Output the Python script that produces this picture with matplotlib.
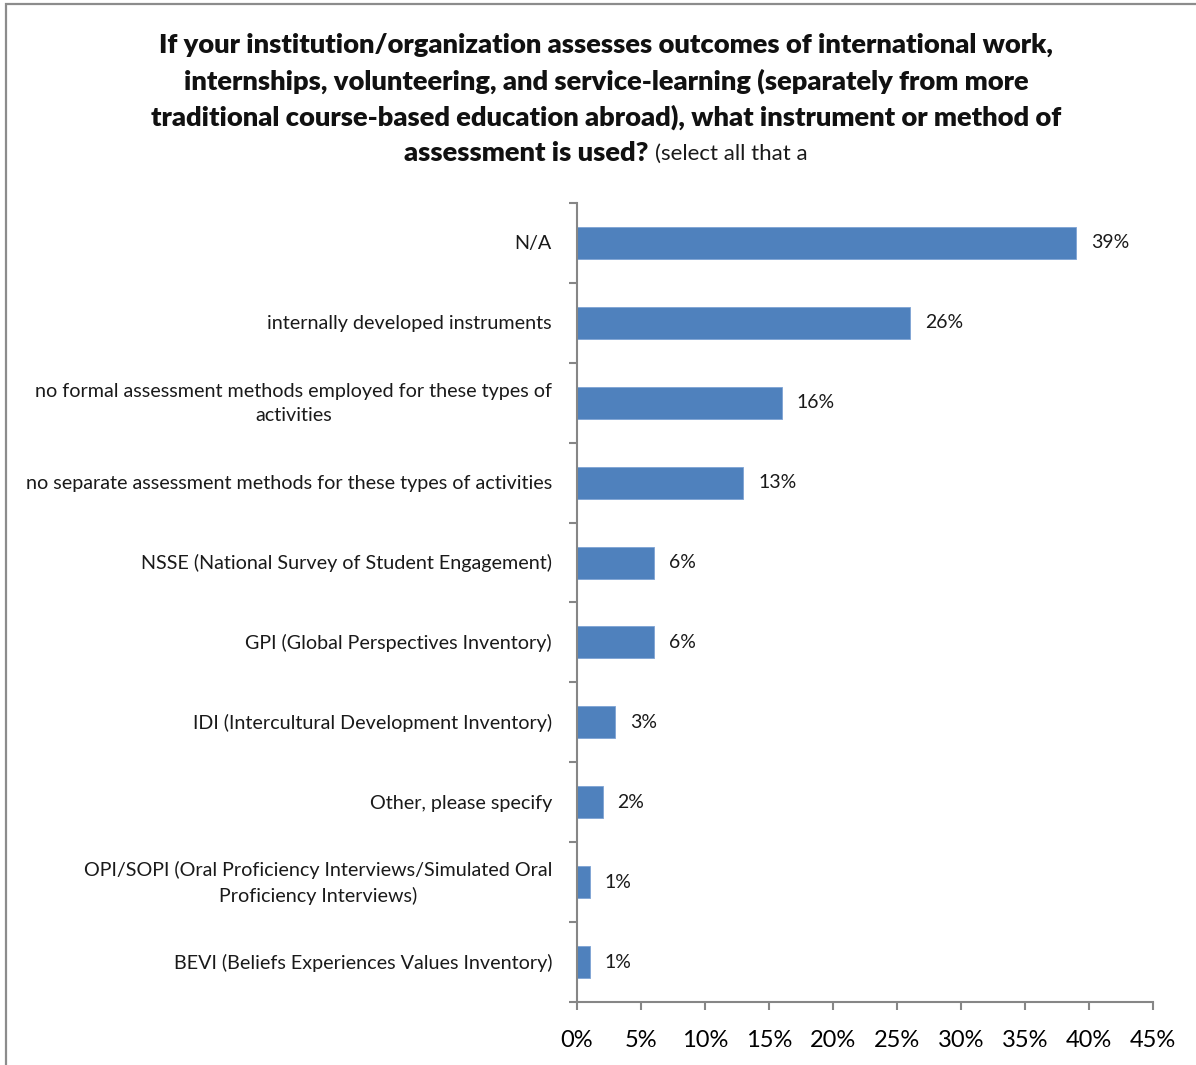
import matplotlib
matplotlib.use('Agg')
import matplotlib.pyplot as plt
from matplotlib.patches import Rectangle
import numpy as np

plt.rcParams['font.family'] = ['Lato', 'DejaVu Sans']

categories = [
    'N/A',
    'internally developed instruments',
    'no formal assessment methods employed for these types of\nactivities',
    'no separate assessment methods for these types of activities',
    'NSSE (National Survey of Student Engagement)',
    'GPI (Global Perspectives Inventory)',
    'IDI (Intercultural Development Inventory)',
    'Other, please specify',
    'OPI/SOPI (Oral Proficiency Interviews/Simulated Oral\nProficiency Interviews)',
    'BEVI (Beliefs Experiences Values Inventory)',
]
values = [39, 26, 16, 13, 6, 6, 3, 2, 1, 1]
xticks = [0, 5, 10, 15, 20, 25, 30, 35, 40, 45]

W, H = 1196, 1065
fig = plt.figure(figsize=(W / 100, H / 100), dpi=100)

# outer frame (runs off the right and bottom)
fig.patches.append(Rectangle((6 / W, -0.05), 1.1, 1 - 4 / H + 0.05,
                             transform=fig.transFigure, fill=False,
                             edgecolor='#8c8c8c', lw=1.6))

ax = fig.add_axes([577 / W, 1 - 1002 / H, (1153 - 577) / W, (1002 - 203) / H])
n = len(categories)
y = np.arange(n)
ax.barh(y, values, height=0.4, color='#4f81bd', edgecolor='#7ea3d4', lw=0.6)
ax.set_ylim(n - 0.5, -0.5)
ax.set_xlim(0, 45)

axc = '#868686'
for s in ['top', 'right']:
    ax.spines[s].set_visible(False)
for s in ['left', 'bottom']:
    ax.spines[s].set_color(axc)
    ax.spines[s].set_linewidth(1.5)

ax.set_xticks(xticks)
ax.set_xticklabels([f'{v}%' for v in xticks], fontsize=17)
ax.tick_params(axis='x', length=6, width=1.5, color=axc, pad=14)

# category boundary ticks on the y axis, labels at bar centers
ax.set_yticks(np.arange(-0.5, n, 1.0))
ax.set_yticklabels([])
ax.tick_params(axis='y', length=6, width=1.5, color=axc)
for yi, lab in zip(y, categories):
    ax.text(-25 / 12.8, yi + 0.01, lab, ha='right', va='center', multialignment='center',
            fontsize=14.2, linespacing=1.55, color='#1a1a1a')

for yi, v in zip(y, values):
    ax.text(v + 15 / 12.8, yi, f'{v}%', ha='left', va='center', fontsize=14, color='#1a1a1a')

# title
title_lines = [
    'If your institution/organization assesses outcomes of international work,',
    'internships, volunteering, and service-learning (separately from more',
    'traditional course-based education abroad), what instrument or method of',
]
for i, line in enumerate(title_lines):
    fig.text(606 / W, 1 - (45 + 36 * i) / H, line, ha='center', va='center',
             fontsize=19.6, fontweight='heavy', color='#111111')
fig.text(648 / W, 1 - 153 / H, 'assessment is used?', ha='right', va='center',
         fontsize=19.6, fontweight='heavy', color='#111111')
fig.text(655 / W, 1 - 154 / H, '(select all that a', ha='left', va='center',
         fontsize=16, color='#1a1a1a')

fig.savefig('out.png', dpi=100)
